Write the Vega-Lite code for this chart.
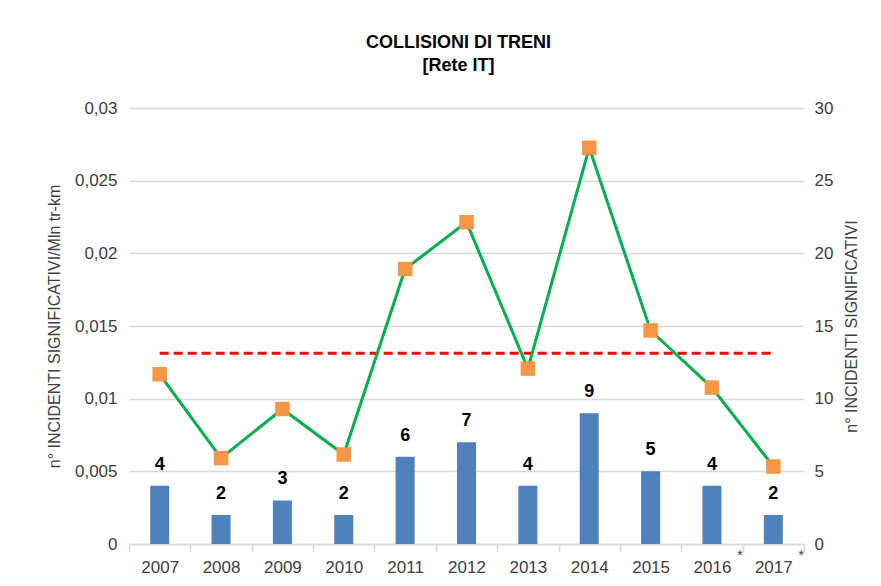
{
  "$schema": "https://vega.github.io/schema/vega-lite/v6.json",
  "width": 675,
  "height": 436,
  "autosize": {"type": "none"},
  "padding": {"left": 129, "top": 108, "right": 77, "bottom": 42},
  "background": "white",
  "title": {
    "text": ["COLLISIONI DI TRENI", "[Rete IT]"],
    "font": "Liberation Sans",
    "fontSize": 18,
    "fontWeight": "bold",
    "color": "#000000",
    "lineHeight": 23,
    "anchor": "middle",
    "dx": -8,
    "offset": 24
  },
  "data": {
    "values": [
      {"anno": "2007", "incidenti": 4, "tasso": 0.01168, "media": 0.01312, "nota": ""},
      {"anno": "2008", "incidenti": 2, "tasso": 0.00591, "media": 0.01312, "nota": ""},
      {"anno": "2009", "incidenti": 3, "tasso": 0.00929, "media": 0.01312, "nota": ""},
      {"anno": "2010", "incidenti": 2, "tasso": 0.00616, "media": 0.01312, "nota": ""},
      {"anno": "2011", "incidenti": 6, "tasso": 0.01892, "media": 0.01312, "nota": ""},
      {"anno": "2012", "incidenti": 7, "tasso": 0.02214, "media": 0.01312, "nota": ""},
      {"anno": "2013", "incidenti": 4, "tasso": 0.01207, "media": 0.01312, "nota": ""},
      {"anno": "2014", "incidenti": 9, "tasso": 0.02726, "media": 0.01312, "nota": ""},
      {"anno": "2015", "incidenti": 5, "tasso": 0.01469, "media": 0.01312, "nota": ""},
      {"anno": "2016", "incidenti": 4, "tasso": 0.01076, "media": 0.01312, "nota": "*"},
      {"anno": "2017", "incidenti": 2, "tasso": 0.00533, "media": 0.01312, "nota": "*"}
    ]
  },
  "encoding": {
    "x": {
      "field": "anno",
      "type": "ordinal",
      "scale": {"paddingInner": 0, "paddingOuter": 0},
      "axis": {
        "title": null,
        "labelAngle": 0,
        "labelFont": "Liberation Sans",
        "labelFontSize": 17,
        "labelColor": "#404040",
        "labelPadding": 7,
        "domainColor": "#d9d9d9",
        "domainWidth": 1.5,
        "tickColor": "#d9d9d9",
        "tickWidth": 1.5,
        "tickSize": 8,
        "tickBand": "extent",
        "grid": false
      }
    }
  },
  "layer": [
    {
      "encoding": {
        "y": {
          "field": "incidenti",
          "type": "quantitative",
          "scale": {"domain": [0, 30], "nice": false},
          "axis": {
            "orient": "right",
            "values": [0, 5, 10, 15, 20, 25, 30],
            "title": "n° INCIDENTI SIGNIFICATIVI",
            "titleAngle": 270,
            "titleFont": "Liberation Sans",
            "titleFontSize": 16,
            "titleFontWeight": "normal",
            "titleColor": "#404040",
            "titlePadding": 27,
            "labelFont": "Liberation Sans",
            "labelFontSize": 17,
            "labelColor": "#404040",
            "labelPadding": 10,
            "domain": false,
            "ticks": false,
            "grid": false
          }
        }
      },
      "layer": [
        {"mark": {"type": "bar", "color": "#4F81BD", "width": {"band": 0.31}}},
        {
          "mark": {"type": "text", "font": "Liberation Sans", "fontSize": 18, "fontWeight": "bold", "color": "#000000", "baseline": "alphabetic", "dy": -16},
          "encoding": {"text": {"field": "incidenti", "type": "quantitative"}}
        },
        {
          "mark": {"type": "text", "font": "Liberation Sans", "fontSize": 14, "color": "#404040", "baseline": "middle", "dx": 28, "dy": 12},
          "encoding": {"text": {"field": "nota"}, "y": {"datum": 0}}
        }
      ]
    },
    {
      "encoding": {
        "y": {
          "field": "tasso",
          "type": "quantitative",
          "scale": {"domain": [0, 0.03], "nice": false},
          "axis": {
            "orient": "left",
            "values": [0, 0.005, 0.01, 0.015, 0.02, 0.025, 0.03],
            "labelExpr": "replace(format(datum.value, '~g'), '.', ',')",
            "title": "n° INCIDENTI SIGNIFICATIVI/Mln tr-km",
            "titleFont": "Liberation Sans",
            "titleFontSize": 16,
            "titleFontWeight": "normal",
            "titleColor": "#404040",
            "titlePadding": 12,
            "labelFont": "Liberation Sans",
            "labelFontSize": 17,
            "labelColor": "#404040",
            "labelPadding": 12,
            "domain": false,
            "ticks": false,
            "grid": true,
            "gridColor": "#d9d9d9",
            "gridWidth": 1.5
          }
        }
      },
      "layer": [
        {
          "mark": {"type": "line", "color": "#FF0000", "strokeWidth": 3, "strokeDash": [9, 5]},
          "encoding": {"y": {"field": "media", "type": "quantitative"}}
        },
        {"mark": {"type": "line", "color": "#00B050", "strokeWidth": 3}},
        {"mark": {"type": "point", "shape": "square", "filled": true, "size": 210, "color": "#F79646", "opacity": 1}}
      ]
    }
  ],
  "resolve": {"scale": {"y": "independent"}, "axis": {"y": "independent"}},
  "config": {"view": {"stroke": null}}
}
